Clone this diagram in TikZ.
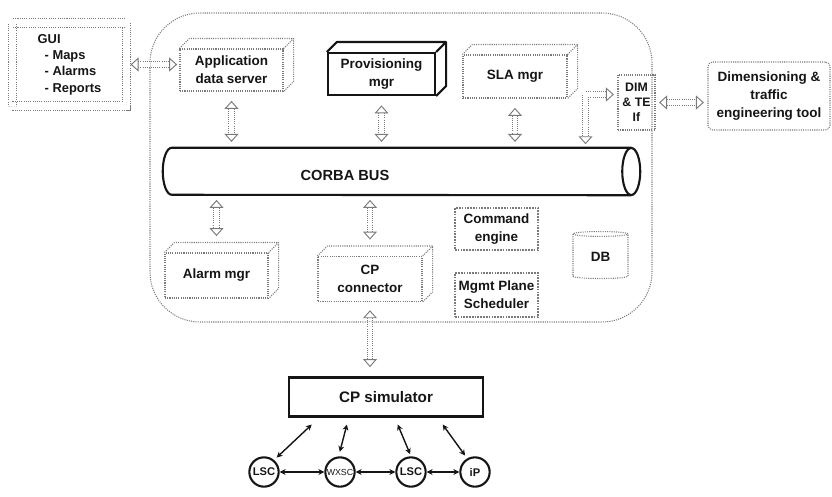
\documentclass[tikz,border=0pt]{standalone}
\usepackage{fontspec}
\setmainfont{Liberation Sans}
\usetikzlibrary{arrows.meta,positioning,calc,shapes.geometric}
\definecolor{ink}{HTML}{151515}
\definecolor{dotgray}{HTML}{7A7A7A}
\definecolor{paper}{HTML}{FFFFFF}
\tikzset{
  font=\bfseries\fontsize{11.5}{15.5}\selectfont,
  dotline/.style={draw=dotgray, densely dotted, line width=0.9pt},
  heavyline/.style={draw=ink, line width=1.8pt},
  cube/.style={dotline, align=center, text=ink, inner sep=2pt},
  hardcube/.style={heavyline, align=center, text=ink, inner sep=2pt},
  flatbox/.style={draw=dotgray, densely dotted, line width=1.4pt, align=center,
    text=ink, inner sep=1pt},
  group/.style={dotline, rounded corners=1.5cm},
  guibox/.style={dotline, double=paper, double distance=0.22cm, align=left,
    text=ink, font=\bfseries\fontsize{11}{14}\selectfont},
  hollow/.style={draw=dotgray, densely dotted, line width=0.8pt, double=paper,
    double distance=0.14cm,
    {Triangle[open, length=0.24cm, width=0.42cm]}-{Triangle[open, length=0.24cm, width=0.42cm]}},
  wire/.style={draw=ink, line width=1.2pt,
    {Stealth[length=5pt, width=5pt]}-{Stealth[length=5pt, width=5pt]}},
  nelem/.style={circle, heavyline, minimum size=0.88cm, inner sep=0pt, text=ink,
    font=\bfseries\fontsize{9.5}{10}\selectfont},
  dbstore/.style={cylinder, shape border rotate=90, aspect=0.25, dotline,
    text=ink, inner sep=0pt}
}

\begin{document}
\begin{tikzpicture}[x=0.03cm, y=-0.03cm]
  \useasboundingbox (0,0) rectangle (832,496);

  % management system boundary
  \node[group, minimum width=15.06cm, minimum height=9.27cm] (nms) at (401,167.5) {};

  % GUI
  \node[guibox, minimum width=3.42cm, minimum height=2.49cm] (gui) at (69.5,64.5)
    {GUI\\\hspace*{6pt}- Maps\\\hspace*{6pt}- Alarms\\\hspace*{6pt}- Reports};

  % upper servers
  \node[cube, minimum width=3.09cm, minimum height=1.26cm] (app) at (231.5,70) {Application\\data server};
  \node[hardcube, minimum width=3.21cm, minimum height=1.26cm] (prov) at (381.5,74) {Provisioning\\mgr};
  \node[cube, minimum width=3.12cm, minimum height=1.29cm] (sla) at (515,76.5) {SLA mgr};
  \node[cube, minimum width=1.11cm, minimum height=1.65cm, inner sep=0pt,
    font=\bfseries\fontsize{10.5}{13}\selectfont] (dim) at (636.5,102.5) {DIM\\\& TE\\If};
  \node[cube, rounded corners=4pt, minimum width=3.66cm, minimum height=2.04cm] (tool) at (769,96)
    {Dimensioning \&\\traffic\\engineering tool};

  % bus (tube drawn by hand round the node)
  \node[minimum width=14.31cm, minimum height=1.41cm, inner sep=0pt] (bus) at (401.5,171.5) {};
  \draw[heavyline] ($(bus.north east)+(-9,0)$) -- ($(bus.north west)+(9,0)$)
    arc[start angle=90, end angle=270, x radius=0.27cm, y radius=0.705cm]
    -- ($(bus.south east)+(-9,0)$);
  \draw[heavyline] ($(bus.east)+(-9,0)$) ellipse[x radius=0.27cm, y radius=0.705cm];
  \node[font=\bfseries\fontsize{12.5}{14}\selectfont, text=ink] (buslabel) at (345,175) {CORBA BUS};

  % lower servers
  \node[cube, minimum width=3.09cm, minimum height=1.35cm] (alarm) at (216.5,275.5) {Alarm mgr};
  \node[cube, minimum width=3.12cm, minimum height=1.35cm] (cpc) at (370,279) {CP\\connector};
  \node[flatbox, minimum width=2.49cm, minimum height=1.26cm] (cmd) at (496.5,229) {Command\\engine};
  \node[flatbox, minimum width=2.49cm, minimum height=1.32cm] (sched) at (496.5,295) {Mgmt Plane\\Scheduler};
  \node[dbstore, minimum width=1.65cm, minimum height=1.41cm] (db) at (600.5,256.5) {DB};

  % 3D faces
  \foreach \b/\s in {app/dotline, prov/heavyline, sla/dotline, alarm/dotline, cpc/dotline}
    \draw[\s, line join=round] (\b.north west) -- ++(10,-10) -| ($(\b.south east)+(10,-10)$)
      -- (\b.south east) (\b.north east) -- ++(10,-10);

  % simulator and network
  \node[hardcube, minimum width=5.8cm, minimum height=1.17cm,
    font=\bfseries\fontsize{13}{15}\selectfont] (sim) at (386,397) {CP simulator};
  \node[nelem] (lsc1) at (264,472) {LSC};
  \node[nelem, font=\mdseries\fontsize{7.5}{9}\selectfont] (wxsc) at (340,472) {WXSC};
  \node[nelem] (lsc2) at (411,472) {LSC};
  \node[nelem] (ip) at (475,472) {iP};

  % hollow connectors
  \draw[hollow, shorten <=3pt, shorten >=2pt] (gui.east) -- (gui.east -| app.west);
  \draw[hollow, shorten <=3pt, shorten >=3pt] (dim.east) -- (dim.east -| tool.west);
  \draw[hollow, shorten <=3pt, shorten >=3pt] ($(dim.west)+(0,-8)$) -| ($(bus.north -| sla.east)+(18,0)$);
  \foreach \b in {app, prov, sla}
    \draw[hollow, shorten <=8pt, shorten >=5pt] (\b.south) -- (\b.south |- bus.north);
  \foreach \b in {alarm, cpc}
    \draw[hollow, shorten <=4pt, shorten >=14pt] (\b.north |- bus.south) -- (\b.north);
  \draw[hollow, shorten <=7pt, shorten >=8pt] (cpc.south) -- (cpc.south |- sim.north);

  % network links
  \draw[wire, shorten <=3pt] (lsc1.50) -- ($(sim.south west)!0.12!(sim.south east)+(0,7)$);
  \draw[wire, shorten <=4pt] (wxsc.95) -- ($(sim.south west)!0.30!(sim.south east)+(0,7)$);
  \draw[wire, shorten <=2pt] (lsc2.north) -- ($(sim.south west)!0.56!(sim.south east)+(0,7)$);
  \draw[wire, shorten <=3pt] (ip.120) -- ($(sim.south west)!0.79!(sim.south east)+(0,7)$);
  \draw[wire] (lsc1) -- (wxsc);
  \draw[wire] (wxsc) -- (lsc2);
  \draw[wire] (lsc2) -- (ip);
\end{tikzpicture}
\end{document}
